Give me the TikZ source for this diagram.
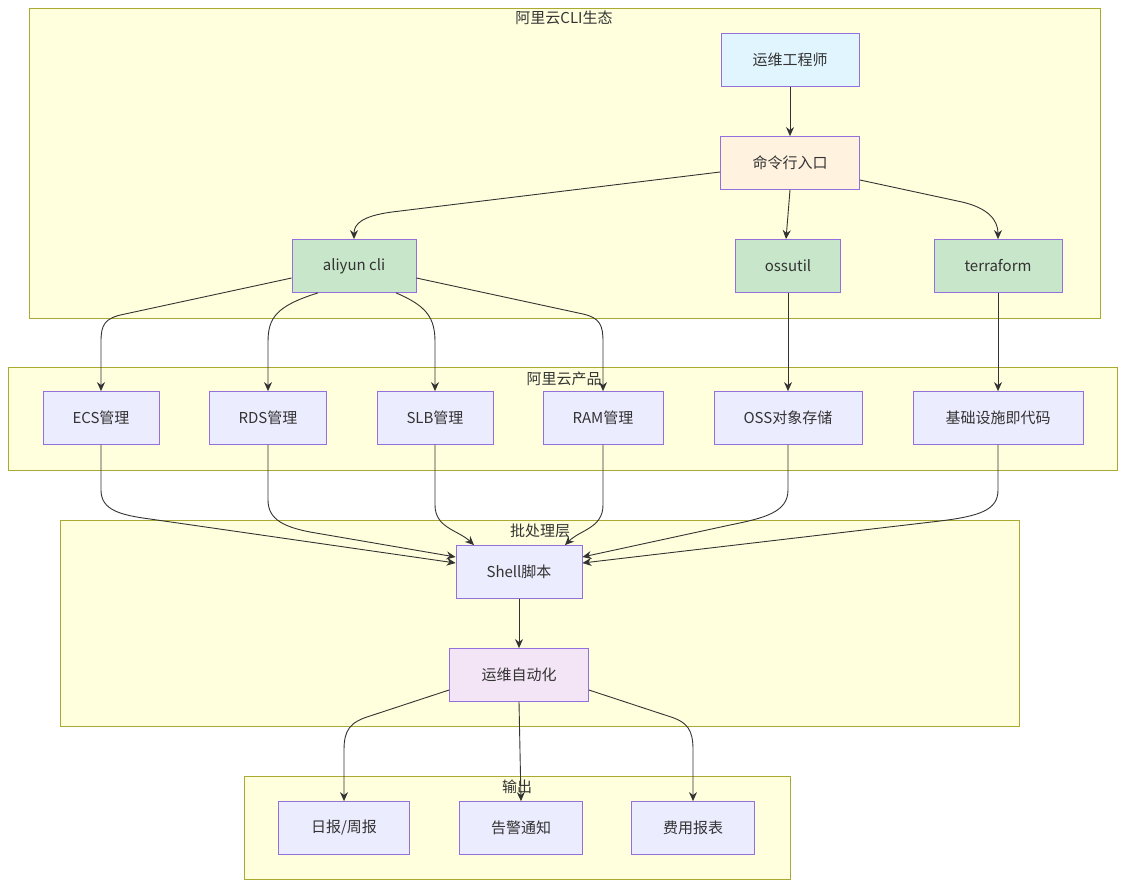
\documentclass[tikz,border=0pt]{standalone}
\usepackage{fontspec}
\setmainfont{Noto Sans CJK SC}
\usetikzlibrary{arrows.meta}
\definecolor{clfill}{HTML}{FFFFDE}
\definecolor{clline}{HTML}{AAAA33}
\definecolor{ndfill}{HTML}{ECECFF}
\definecolor{ndline}{HTML}{9370DB}
\definecolor{edge}{HTML}{333333}
\definecolor{txt}{HTML}{333333}
\definecolor{fblue}{HTML}{E1F5FE}
\definecolor{forange}{HTML}{FFF3E0}
\definecolor{fgreen}{HTML}{C8E6C9}
\definecolor{fpink}{HTML}{F3E5F5}
\tikzset{
  cluster/.style={draw=clline, fill=clfill, line width=0.8pt},
  cltitle/.style={text=txt, font=\fontsize{15}{17}\selectfont, inner sep=0pt},
  box/.style={draw=ndline, fill=ndfill, line width=0.8pt, text=txt, font=\fontsize{15}{17}\selectfont, inner sep=0pt, minimum height=53pt},
  arr/.style={draw=edge, line width=0.9pt, -{Stealth[length=9pt,width=8pt]}},
}
\begin{document}
\begin{tikzpicture}[x=1pt,y=-1pt]
\useasboundingbox (0,0) rectangle (1134,894);
% clusters
\draw[cluster] (29,8) rectangle (1100,318);
\node[cltitle] (t1) at (564,18) {阿里云CLI生态};
\draw[cluster] (8,367) rectangle (1117,470);
\draw[cluster] (60,520) rectangle (1019,726);
\draw[cluster] (244,776) rectangle (790,879);
% nodes
\node[box, minimum width=138pt, fill=fblue] (eng) at (790,60) {运维工程师};
\node[box, minimum width=139pt, fill=forange] (cmd) at (790,163) {命令行入口};
\node[box, minimum width=124pt, fill=fgreen] (ali) at (354,266) {aliyun cli};
\node[box, minimum width=105pt, fill=fgreen] (oss) at (788,266) {ossutil};
\node[box, minimum width=128pt, fill=fgreen] (ter) at (998,266) {terraform};
\node[box, minimum width=116pt] (ecs) at (101,418) {ECS管理};
\node[box, minimum width=117pt] (rds) at (268,418) {RDS管理};
\node[box, minimum width=116pt] (slb) at (435,418) {SLB管理};
\node[box, minimum width=120pt] (ram) at (603,418) {RAM管理};
\node[box, minimum width=148pt] (ossp) at (788,418) {OSS对象存储};
\node[box, minimum width=170pt] (iac) at (998,418) {基础设施即代码};
\node[box, minimum width=126pt] (sh) at (519,572) {Shell脚本};
\node[box, minimum width=139pt, fill=fpink] (auto) at (519,675) {运维自动化};
\node[box, minimum width=131pt] (day) at (344,828) {日报/周报};
\node[box, minimum width=123pt] (alm) at (521,828) {告警通知};
\node[box, minimum width=123pt] (cost) at (693,828) {费用报表};
% edges
\draw[arr] (eng) -- (cmd);
\draw[arr] ([yshift=-9pt]cmd.west) -- (392,212) .. controls (362,216) and (354,224) .. (ali.north);
\draw[arr] (cmd.south) -- ([xshift=-2pt]oss.north);
\draw[arr] ([yshift=-17pt]cmd.east) -- (962,202) .. controls (988,208) and (998,220) .. (ter.north);
\draw[arr] ([yshift=-12pt]ali.west) -- (125,314) .. controls (104,318) and (101,325) .. (101,342) -- (ecs.north);
\draw[arr] ([xshift=-36pt]ali.south) .. controls (276,306) and (268,318) .. (268,342) -- (rds.north);
\draw[arr] ([xshift=42pt]ali.south) .. controls (427,306) and (435,318) .. (435,342) -- (slb.north);
\draw[arr] ([yshift=-12pt]ali.east) -- (583,314) .. controls (600,318) and (603,325) .. (603,342) -- (ram.north);
\draw[arr] (oss) -- (ossp);
\draw[arr] (ter) -- (iac);
\draw[arr] (ecs.south) -- (101,490) .. controls (101,510) and (120,515) .. (150,519) -- ([yshift=9pt]sh.west);
\draw[arr] (rds.south) -- (268,500) .. controls (268,520) and (285,527) .. (310,532) -- ([yshift=15pt]sh.west);
\draw[arr] (slb.south) -- (435,505) .. controls (435,528) and (458,530) .. ([xshift=-45pt]sh.north);
\draw[arr] (ram.south) -- (603,505) .. controls (603,528) and (580,530) .. ([xshift=46pt]sh.north);
\draw[arr] (ossp.south) -- (788,490) .. controls (788,512) and (765,518) .. (730,525) -- ([yshift=15pt]sh.east);
\draw[arr] (iac.south) -- (998,490) .. controls (998,510) and (980,516) .. (940,521) -- ([yshift=9pt]sh.east);
\draw[arr] (sh) -- (auto);
\draw[arr] ([yshift=-15pt]auto.west) -- (370,716) .. controls (350,722) and (344,730) .. (344,750) -- (day.north);
\draw[arr] (auto.south) -- (alm.north);
\draw[arr] ([yshift=-15pt]auto.east) -- (668,716) .. controls (688,722) and (693,730) .. (693,750) -- (cost.north);
% titles drawn on top
\node[cltitle] (t2) at (564,379) {阿里云产品};
\node[cltitle] (t3) at (540,531) {批处理层};
\node[cltitle] (t4) at (517,787) {输出};
\end{tikzpicture}
\end{document}
